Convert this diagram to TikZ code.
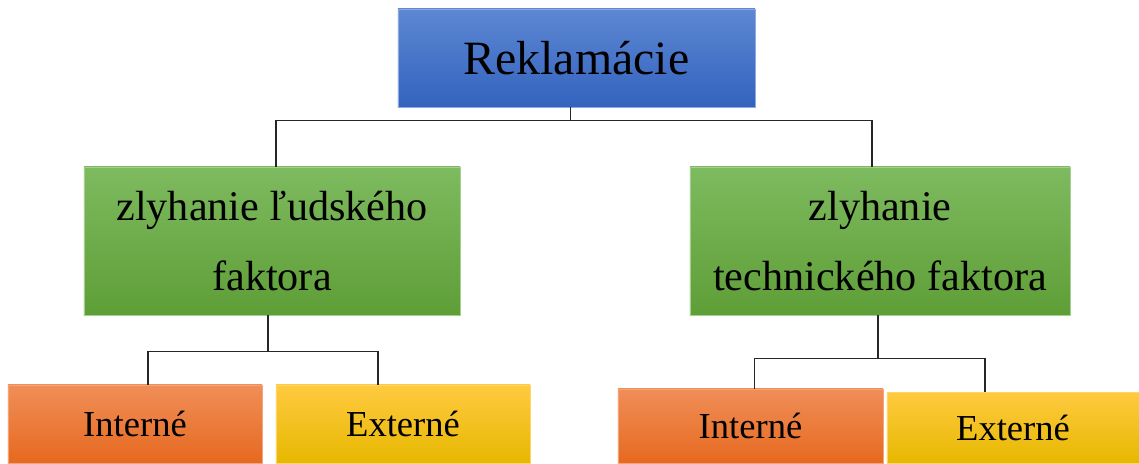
\documentclass[tikz,border=0pt]{standalone}
\usepackage{fontspec}
\setmainfont{Liberation Serif}
\usetikzlibrary{calc}
\definecolor{modraH}{HTML}{5D87D3}
\definecolor{modraD}{HTML}{3363BE}
\definecolor{zelenaH}{HTML}{7EBA5F}
\definecolor{zelenaD}{HTML}{5E9E37}
\definecolor{oranzH}{HTML}{F08E58}
\definecolor{oranzD}{HTML}{E6691F}
\definecolor{zltaH}{HTML}{FFCA40}
\definecolor{zltaD}{HTML}{E6B800}
\tikzset{every node/.style={align=center, inner sep=0pt},
         box/.style={rectangle, line width=0.5pt}, % all boxes
         hlavny/.style={box, top color=modraH, bottom color=modraD, draw=modraH!70!white,
           minimum width=8.925cm, minimum height=2.45cm,
           font=\fontsize{34}{40}\selectfont},
         faktor/.style={box, top color=zelenaH, bottom color=zelenaD, draw=zelenaH!70!white,
           minimum height=3.7cm,
           font=\fontsize{30}{50}\selectfont},
         interne/.style={box, top color=oranzH, bottom color=oranzD, draw=oranzH!80!white,
           font=\fontsize{26}{30}\selectfont},
         externe/.style={box, top color=zltaH, bottom color=zltaD, draw=zltaH!80!white,
           font=\fontsize{26}{30}\selectfont},
         spoj/.style={draw=black!85, line width=0.75pt}}
\begin{document}
\begin{tikzpicture}[x=0.025cm, y=-0.025cm]
  \useasboundingbox (0,0) rectangle (1139,463);

  \node [hlavny] (rekl) at (576.5,58) {Reklamácie};
  \node [faktor, minimum width=9.4cm] (ludsky) at (272,241) {zlyhanie ľudského\\faktora};
  \node [faktor, minimum width=9.5cm] (technicky) at (880,241) {zlyhanie\\technického faktora};

  \node [interne, minimum width=6.35cm, minimum height=1.95cm] (lint) at (135,424) {Interné};
  \node [externe, minimum width=6.35cm, minimum height=1.95cm] (lext) at (403,424) {Externé};
  \node [interne, minimum width=6.625cm, minimum height=1.85cm] (rint) at (750.5,426) {Interné};
  \node [externe, minimum width=6.3cm, minimum height=1.775cm] (rext) at (1013,427.5) {Externé};

  % spojnice
  \draw [spoj] ([xshift=-0.15cm]rekl.south) -- ++(0,13) coordinate (hore);
  \draw [spoj] ([xshift=0.1cm]ludsky.north) |- (hore) -| ([xshift=-0.2cm]technicky.north);

  \draw [spoj] ([xshift=-0.1cm]ludsky.south) -- ++(0,36) coordinate (lspoj);
  \draw [spoj] ([xshift=0.325cm]lint.north) |- (lspoj) -| ([xshift=-0.625cm]lext.north);

  \draw [spoj] ([xshift=-0.05cm]technicky.south) -- ++(0,43) coordinate (rspoj);
  \draw [spoj] ([xshift=0.1cm]rint.north) |- (rspoj) -| ([xshift=-0.7cm]rext.north);
\end{tikzpicture}
\end{document}
